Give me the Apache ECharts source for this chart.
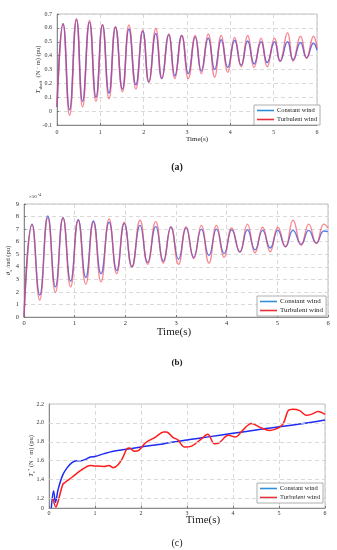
<!DOCTYPE html>
<html><head><meta charset="utf-8">
<script src="https://cdn.jsdelivr.net/npm/echarts@6/dist/echarts.min.js"></script>
<style>html,body{margin:0;padding:0;background:#fff}#c{width:337px;height:550px}</style>
</head><body><div id="c"></div>
<script>
// ---------- data ----------
const xTicks = [0, 1, 2, 3, 4, 5, 6];
// (a) shaft torque: peak / trough points
const aT = [0, 0.14, 0.29, 0.45, 0.59, 0.75, 0.9, 1.05, 1.2, 1.35, 1.51, 1.66, 1.82, 1.98, 2.12, 2.28, 2.42, 2.58, 2.72, 2.88, 3.03, 3.19, 3.33, 3.49, 3.64, 3.79, 3.94, 4.10, 4.25, 4.40, 4.55, 4.71, 4.85, 5.02, 5.15, 5.32, 5.45, 5.62, 5.76, 5.92, 6.0];
const aConst = [0.03, 0.63, 0.01, 0.66, 0.07, 0.64, 0.10, 0.62, 0.13, 0.605, 0.16, 0.59, 0.19, 0.575, 0.21, 0.56, 0.235, 0.55, 0.255, 0.545, 0.27, 0.535, 0.29, 0.525, 0.30, 0.515, 0.315, 0.51, 0.33, 0.505, 0.34, 0.50, 0.35, 0.50, 0.36, 0.50, 0.37, 0.495, 0.385, 0.49, 0.44];
const aTurb = [0.03, 0.63, -0.03, 0.665, 0.03, 0.655, 0.07, 0.625, 0.09, 0.61, 0.14, 0.62, 0.16, 0.585, 0.21, 0.595, 0.235, 0.555, 0.235, 0.545, 0.235, 0.545, 0.27, 0.555, 0.245, 0.545, 0.28, 0.53, 0.32, 0.545, 0.315, 0.525, 0.32, 0.525, 0.36, 0.565, 0.36, 0.54, 0.38, 0.54, 0.45];
const aYTicks = [-0.1, 0, 0.1, 0.2, 0.3, 0.4, 0.5, 0.6, 0.7];
// (b) twist angle (x10^-4)
const bT = [0, 0.16, 0.31, 0.47, 0.62, 0.77, 0.92, 1.07, 1.22, 1.37, 1.52, 1.68, 1.83, 1.98, 2.13, 2.29, 2.44, 2.6, 2.75, 2.9, 3.05, 3.2, 3.35, 3.5, 3.65, 3.8, 3.95, 4.1, 4.26, 4.41, 4.56, 4.71, 4.86, 5.01, 5.16, 5.31, 5.47, 5.62, 5.77, 5.92, 6.0];
const bConst = [0, 7.4, 1.75, 8.05, 2.4, 7.9, 2.85, 7.75, 3.15, 7.65, 3.45, 7.55, 3.7, 7.45, 4.0, 7.3, 4.35, 7.2, 4.45, 7.15, 4.6, 7.1, 4.75, 7.0, 4.9, 7.0, 5.05, 6.95, 5.2, 6.95, 5.35, 6.9, 5.5, 6.9, 5.6, 6.9, 5.8, 6.9, 5.9, 6.85, 6.8];
const bTurb = [0, 7.35, 1.35, 7.9, 1.95, 7.9, 2.4, 7.7, 2.6, 7.55, 2.8, 7.8, 3.45, 7.55, 4.0, 7.7, 4.2, 7.6, 4.3, 7.2, 4.2, 7.2, 4.65, 7.3, 4.3, 7.3, 4.75, 7.1, 5.15, 7.4, 5.1, 7.15, 5.2, 7.15, 5.6, 7.7, 5.7, 7.4, 5.85, 7.4, 7.1];
const bYTicks = [0, 1, 2, 3, 4, 5, 6, 7, 8, 9];
// (c) electromagnetic torque reference
const cConstT = [0.05, 0.1, 0.14, 0.2, 0.3, 0.4, 0.5, 0.6, 0.7, 0.8, 0.9, 1.0, 1.2, 1.4, 1.6, 2.0, 2.5, 3.0, 3.5, 4.0, 4.5, 5.0, 5.5, 6.0];
const cConst = [1.1, 1.28, 1.16, 1.3, 1.45, 1.53, 1.58, 1.6, 1.6, 1.615, 1.64, 1.645, 1.675, 1.70, 1.715, 1.745, 1.78, 1.82, 1.855, 1.89, 1.925, 1.96, 1.99, 2.03];
const cTurbT = [0.09, 0.15, 0.2, 0.3, 0.35, 0.5, 0.7, 0.9, 1.0, 1.2, 1.3, 1.4, 1.5, 1.6, 1.7, 1.75, 1.85, 1.95, 2.1, 2.3, 2.5, 2.55, 2.7, 2.8, 2.95, 3.1, 3.3, 3.45, 3.6, 3.7, 3.9, 4.05, 4.2, 4.4, 4.6, 4.8, 5.0, 5.1, 5.2, 5.3, 5.45, 5.6, 5.7, 5.85, 6.0];
const cTurb = [1.2, 1.11, 1.175, 1.35, 1.37, 1.425, 1.50, 1.55, 1.545, 1.54, 1.55, 1.525, 1.557, 1.63, 1.73, 1.735, 1.70, 1.71, 1.79, 1.845, 1.905, 1.905, 1.845, 1.82, 1.745, 1.755, 1.825, 1.88, 1.78, 1.79, 1.87, 1.85, 1.915, 1.995, 1.95, 1.92, 1.95, 2.0, 2.13, 2.145, 2.13, 2.08, 2.09, 2.12, 2.09];
const cYGrid = [1.2, 1.4, 1.6, 1.8, 2.0];
const seriesNames = ['Constant wind', 'Turbulent wind'];

// ---------- chart ----------
const FONT = '"Liberation Serif", "DejaVu Serif", serif';
const zip = (t, v) => t.map((x, i) => [x, v[i]]);
const chart = echarts.init(document.getElementById('c'), null, {renderer: 'canvas'});

const grids = [
  {left: 57, top: 14, width: 260, height: 111},
  {left: 24, top: 204, width: 304, height: 113},
  {left: 49, top: 404, width: 276, height: 104}
].map(g => Object.assign({show: true, borderColor: '#b0b0b0', borderWidth: 0.8, backgroundColor: '#fff',
  containLabel: false, outerBoundsMode: 'none'}, g));

const dashed = {show: true, lineStyle: {color: '#cfcfcf', type: [4, 3], width: 0.8}};
function xAx(i, fs, margin) {
  return {type: 'value', gridIndex: i, min: xTicks[0], max: xTicks[xTicks.length - 1], interval: 1,
    axisLine: {show: true, onZero: false, lineStyle: {color: '#777', width: 0.8}},
    axisTick: {show: true, inside: true, length: 2, lineStyle: {color: '#777'}},
    axisLabel: {fontFamily: FONT, fontSize: fs, color: '#333', margin: margin},
    splitLine: dashed};
}
function yLab(v) { return Math.abs(v) < 1e-9 ? '0' : String(+v.toFixed(1)); }

const yAxes = [
  {type: 'value', gridIndex: 0, min: aYTicks[0], max: aYTicks[aYTicks.length - 1], interval: 0.1,
    axisLine: {show: true, lineStyle: {color: '#777', width: 0.8}},
    axisTick: {show: true, inside: true, length: 2},
    axisLabel: {fontFamily: FONT, fontSize: 6, color: '#333', margin: 5, formatter: yLab},
    splitLine: dashed,
    name: '{i|T}{s|shaft}{n|  (N · m) (pu)}', nameLocation: 'middle', nameGap: 14, nameRotate: 90, nameMoveOverlap: false,
    nameTextStyle: {rich: {i: {fontFamily: FONT, fontSize: 7, fontStyle: 'italic', color: '#333'},
      s: {fontFamily: FONT, fontSize: 4.5, color: '#333', padding: [4, 0, 0, 0]},
      n: {fontFamily: FONT, fontSize: 6.5, color: '#333'}}}},
  {type: 'value', gridIndex: 1, min: bYTicks[0], max: bYTicks[bYTicks.length - 1], interval: 1,
    axisLine: {show: true, lineStyle: {color: '#777', width: 0.8}},
    axisTick: {show: true, inside: true, length: 2},
    axisLabel: {fontFamily: FONT, fontSize: 6.5, color: '#333', margin: 5},
    splitLine: dashed,
    name: '{i|θ}{s|s}{n| /rad (pu)}', nameLocation: 'middle', nameGap: 11, nameRotate: 90, nameMoveOverlap: false,
    nameTextStyle: {rich: {i: {fontFamily: FONT, fontSize: 7, fontStyle: 'italic', color: '#333'},
      s: {fontFamily: FONT, fontSize: 4.5, color: '#333', padding: [4, 0, 0, 0]},
      n: {fontFamily: FONT, fontSize: 6.5, color: '#333'}}}},
  {type: 'value', gridIndex: 2, min: 1.1, max: 2.2, interval: 0.1,
    axisLine: {show: true, lineStyle: {color: '#777', width: 0.8}},
    axisTick: {show: false},
    axisLabel: {fontFamily: FONT, fontSize: 6, color: '#333', margin: 5,
      formatter: v => Math.abs(v - 1.1) < 1e-6 ? '0' : (Math.round(v * 10) % 2 === 0 ? v.toFixed(1) : '')},
    splitLine: {show: false},
    name: '{i|T}{s|e}{p|*}{n| (N · m) (pu)}', nameLocation: 'middle', nameGap: 13, nameRotate: 90, nameMoveOverlap: false,
    nameTextStyle: {rich: {i: {fontFamily: FONT, fontSize: 7, fontStyle: 'italic', color: '#333'},
      s: {fontFamily: FONT, fontSize: 4.5, color: '#333', padding: [4, 0, 0, 0]},
      p: {fontFamily: FONT, fontSize: 4.5, color: '#333', padding: [0, 0, 4, 0]},
      n: {fontFamily: FONT, fontSize: 6.5, color: '#333'}}}}
];

const legendColors = [{name: seriesNames[0], itemStyle: {color: '#2f8fd8'}}, {name: seriesNames[1], itemStyle: {color: '#e8303a'}}];
function leg(left, top, fs) {
  return {left: left, top: top, orient: 'vertical', icon: 'rect', itemWidth: 17, itemHeight: 1.6, itemGap: 2,
    padding: [2, 3, 2, 3], backgroundColor: '#fff', borderColor: '#999', borderWidth: 0.8,
    textStyle: {fontFamily: FONT, fontSize: fs, color: '#222', padding: [0, 0, 0, -2]},
    data: legendColors, selectedMode: false};
}

function line(name, xi, data, color, w, op, smooth) {
  return {type: 'line', name: name, xAxisIndex: xi, yAxisIndex: xi, data: data, showSymbol: false, symbol: 'none',
    smooth: smooth, lineStyle: {color: color, width: w, opacity: op}, itemStyle: {color: color}, silent: true, animation: false};
}

const series = [
  line(seriesNames[0], 0, zip(aT, aConst), '#5a72ee', 1.5, 1, 0.5),
  line(seriesNames[1], 0, zip(aT, aTurb), '#f23a52', 1.5, 0.6, 0.5),
  line(seriesNames[0], 1, zip(bT, bConst), '#5a7af2', 1.4, 1, 0.5),
  line(seriesNames[1], 1, zip(bT, bTurb), '#f23a48', 1.4, 0.6, 0.5),
  line(seriesNames[0], 2, zip(cConstT, cConst), '#1c2cf2', 1.5, 1, 0.35),
  line(seriesNames[1], 2, zip(cTurbT, cTurb), '#ff1c1c', 1.5, 1, 0.35)
];
series[4].markLine = {silent: true, symbol: 'none', label: {show: false},
  lineStyle: {color: '#cfcfcf', type: [4, 3], width: 0.8}, data: cYGrid.map(v => ({yAxis: v}))};
series[4].z = 3; series[5].z = 4;

const txt = (text, x, y, size, extra) => ({type: 'text', x: x, y: y, silent: true,
  style: Object.assign({text: text, fontFamily: FONT, fontSize: size, fill: '#222', align: 'center', verticalAlign: 'middle'}, extra || {})});

chart.setOption({
  animation: false,
  grid: grids,
  xAxis: [xAx(0, 6, 4), xAx(1, 6.5, 3), xAx(2, 6, 2)],
  yAxis: yAxes,
  legend: [leg(254, 105, 6.5), leg(257, 296, 7), leg(257, 483, 6.5)],
  series: series,
  graphic: [
    txt('Time(s)', 197, 139, 7),
    txt('(a)', 177, 167, 10, {fontWeight: 'bold'}),
    txt('×10', 29, 197, 5, {align: 'left'}),
    txt('-4', 38, 195, 3.5, {align: 'left'}),
    txt('Time(s)', 174, 332, 11),
    txt('(b)', 177, 363, 9, {fontWeight: 'bold'}),
    txt('Time(s)', 203, 520, 11),
    txt('(c)', 177, 543, 10)
  ]
});
</script></body></html>
